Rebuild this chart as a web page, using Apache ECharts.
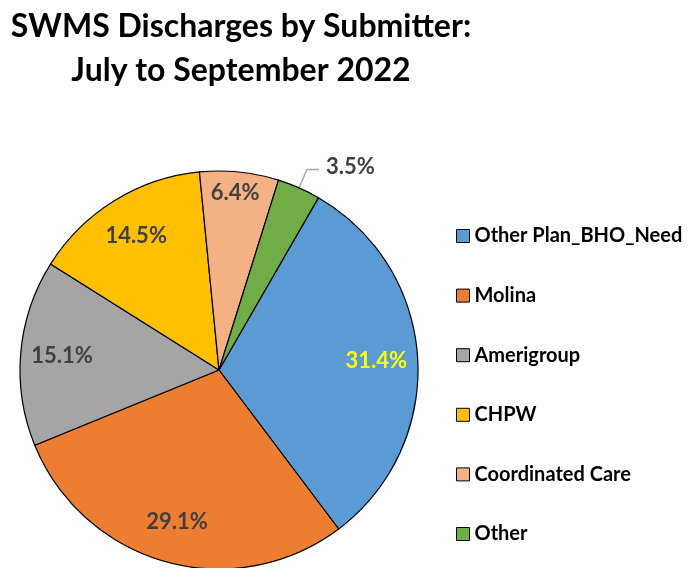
<!DOCTYPE html>
<html>
<head>
<meta charset="utf-8">
<script src="https://cdn.jsdelivr.net/npm/echarts@6/dist/echarts.min.js"></script>
<style>
  html, body { margin: 0; padding: 0; background: #fff; }
  #chart { width: 694px; height: 568px; }
</style>
</head>
<body>
<div id="chart"></div>
<script>
  var submitters = ['Other Plan_BHO_Need', 'Molina', 'Amerigroup', 'CHPW', 'Coordinated Care', 'Other'];
  var shares = [31.4, 29.1, 15.1, 14.5, 6.4, 3.5];
  var colors = ['#5B9BD5', '#ED7D31', '#A5A5A5', '#FFC000', '#F4B183', '#70AD47'];

  var font = 'Lato, "Open Sans", sans-serif';
  var center = [219, 370];

  var sliceData = submitters.map(function (name, i) {
    return { name: name, value: shares[i], itemStyle: { color: colors[i] } };
  });

  // ring over the pie that only carries the labels, so they sit further out
  var labelData = submitters.map(function (name, i) {
    var d = { name: name, value: shares[i] };
    if (i === 0) d.label = { color: '#FFFF00' };
    if (name === 'Other') {
      d.label = { position: 'outside', distanceToLabelLine: 3 };
      d.labelLine = { show: true, length: 20, length2: 12, smooth: false,
        lineStyle: { color: '#A6A6A6', width: 1.5 } };
    }
    return d;
  });

  var chart = echarts.init(document.getElementById('chart'));
  chart.setOption({
    animation: false,
    color: colors,
    title: {
      text: 'SWMS Discharges by Submitter:\nJuly to September 2022',
      left: 236,
      top: 0,
      textAlign: 'center',
      textStyle: { fontFamily: font, fontWeight: 'bold', fontSize: 32, lineHeight: 44, color: '#000' }
    },
    legend: {
      orient: 'vertical',
      left: 451,
      top: 221,
      itemWidth: 13,
      itemHeight: 13,
      itemGap: 39.6,
      icon: 'rect',
      itemStyle: { borderColor: '#000', borderWidth: 1 },
      textStyle: { fontFamily: font, fontWeight: 'bold', fontSize: 20, color: '#000' },
      data: submitters
    },
    series: [
      {
        type: 'pie',
        center: center,
        radius: 199,
        startAngle: 60,
        clockwise: true,
        silent: true,
        itemStyle: { borderColor: '#000', borderWidth: 1.2 },
        label: { show: false },
        labelLine: { show: false },
        data: sliceData
      },
      {
        type: 'pie',
        center: center,
        radius: [110, 199],
        startAngle: 60,
        clockwise: true,
        silent: true,
        legendHoverLink: false,
        itemStyle: { color: 'rgba(0,0,0,0)', borderWidth: 0 },
        label: {
          show: true,
          position: 'inside',
          formatter: function (p) { return p.value.toFixed(1) + '%'; },
          fontFamily: font,
          fontWeight: 'bold',
          fontSize: 22,
          color: '#404040'
        },
        labelLine: { show: false },
        // the small Coordinated Care label sits near the rim in the original
        labelLayout: function (p) {
          if (p.dataIndex === 4) return { dy: -20 };
          if (p.dataIndex === 5) return { dx: 4, dy: -3 };
          return {};
        },
        data: labelData
      }
    ]
  });
</script>
</body>
</html>
